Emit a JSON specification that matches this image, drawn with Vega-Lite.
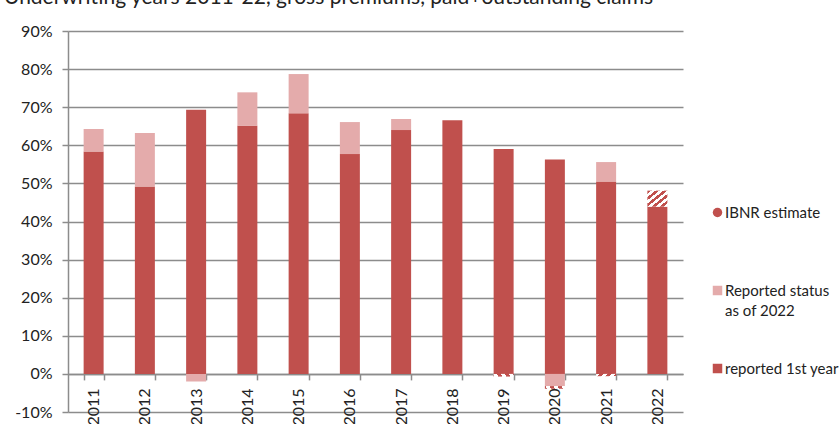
{
  "$schema": "https://vega.github.io/schema/vega-lite/v6.json",
  "width": 615,
  "height": 381,
  "autosize": {"type": "none"},
  "padding": {"left": 68, "top": 31, "right": 157, "bottom": 12},
  "background": "white",
  "title": {
    "text": "Underwriting years 2011-22, gross premiums, paid+outstanding claims",
    "anchor": "start",
    "frame": "group",
    "orient": "top",
    "offset": -2,
    "dx": -64,
    "baseline": "alphabetic",
    "font": "Lato",
    "fontSize": 21,
    "fontWeight": "normal",
    "color": "#222222"
  },
  "config": {
    "font": "Lato",
    "view": {"stroke": null}
  },
  "data": {
    "values": [
      {"year": "2011", "type": "reported 1st year", "value": 58.4},
      {"year": "2011", "type": "Reported status as of 2022", "value": 5.9},
      {"year": "2012", "type": "reported 1st year", "value": 49.2},
      {"year": "2012", "type": "Reported status as of 2022", "value": 14.0},
      {"year": "2013", "type": "reported 1st year", "value": 69.3},
      {"year": "2013", "type": "Reported status as of 2022", "value": -2.0},
      {"year": "2014", "type": "reported 1st year", "value": 65.1},
      {"year": "2014", "type": "Reported status as of 2022", "value": 8.8},
      {"year": "2015", "type": "reported 1st year", "value": 68.4},
      {"year": "2015", "type": "Reported status as of 2022", "value": 10.3},
      {"year": "2016", "type": "reported 1st year", "value": 57.7},
      {"year": "2016", "type": "Reported status as of 2022", "value": 8.4},
      {"year": "2017", "type": "reported 1st year", "value": 64.0},
      {"year": "2017", "type": "Reported status as of 2022", "value": 2.9},
      {"year": "2018", "type": "reported 1st year", "value": 66.6},
      {"year": "2019", "type": "reported 1st year", "value": 59.0},
      {"year": "2019", "type": "IBNR estimate", "value": -0.7},
      {"year": "2020", "type": "reported 1st year", "value": 56.3},
      {"year": "2020", "type": "Reported status as of 2022", "value": -3.2},
      {"year": "2020", "type": "IBNR estimate", "value": -0.7},
      {"year": "2021", "type": "reported 1st year", "value": 50.5},
      {"year": "2021", "type": "Reported status as of 2022", "value": 5.1},
      {"year": "2021", "type": "IBNR estimate", "value": -0.6},
      {"year": "2022", "type": "reported 1st year", "value": 43.9},
      {"year": "2022", "type": "IBNR estimate", "value": 4.2}
    ]
  },
  "mark": {"type": "bar"},
  "encoding": {
    "x": {
      "field": "year",
      "type": "ordinal",
      "scale": {"paddingInner": 0.61, "paddingOuter": 0.305},
      "axis": {
        "title": null,
        "labelAngle": -90,
        "labelAlign": "right",
        "labelBaseline": "middle",
        "tickBand": "extent",
        "offset": -38.1,
        "domainColor": "#8c8c8c",
        "domainWidth": 1.5,
        "tickColor": "#8c8c8c",
        "tickWidth": 1.5,
        "tickSize": 6,
        "labelPadding": 8,
        "labelFontSize": 16,
        "labelColor": "#222222",
        "grid": false
      }
    },
    "y": {
      "field": "value",
      "type": "quantitative",
      "stack": "zero",
      "scale": {"domain": [-10, 90], "nice": false, "zero": false},
      "axis": {
        "title": null,
        "values": [-10, 0, 10, 20, 30, 40, 50, 60, 70, 80, 90],
        "labelExpr": "datum.value + '%'",
        "grid": true,
        "gridColor": "#8c8c8c",
        "gridWidth": 1.5,
        "domainColor": "#8c8c8c",
        "domainWidth": 1.5,
        "tickColor": "#8c8c8c",
        "tickWidth": 1.5,
        "tickSize": 6,
        "labelPadding": 10,
        "labelFontSize": 16,
        "labelColor": "#222222"
      }
    },
    "order": {"field": "type", "sort": "descending"},
    "fill": {
      "field": "type",
      "type": "nominal",
      "condition": {
        "test": "(datum.type || datum.value) === 'IBNR estimate'",
        "value": {
          "gradient": "linear",
          "x1": 0, "y1": 0, "x2": 1, "y2": 1,
          "stops": [
            {"offset": 0, "color": "#c0504d"},
            {"offset": 0.1, "color": "#c0504d"},
            {"offset": 0.1, "color": "#ffffff"},
            {"offset": 0.2, "color": "#ffffff"},
            {"offset": 0.2, "color": "#c0504d"},
            {"offset": 0.3, "color": "#c0504d"},
            {"offset": 0.3, "color": "#ffffff"},
            {"offset": 0.4, "color": "#ffffff"},
            {"offset": 0.4, "color": "#c0504d"},
            {"offset": 0.5, "color": "#c0504d"},
            {"offset": 0.5, "color": "#ffffff"},
            {"offset": 0.6, "color": "#ffffff"},
            {"offset": 0.6, "color": "#c0504d"},
            {"offset": 0.7, "color": "#c0504d"},
            {"offset": 0.7, "color": "#ffffff"},
            {"offset": 0.8, "color": "#ffffff"},
            {"offset": 0.8, "color": "#c0504d"},
            {"offset": 0.9, "color": "#c0504d"},
            {"offset": 0.9, "color": "#ffffff"},
            {"offset": 1, "color": "#ffffff"}
          ]
        }
      },
      "scale": {
        "domain": ["IBNR estimate", "Reported status as of 2022", "reported 1st year"],
        "range": ["#c0504d", "#e4abab", "#c0504d"]
      },
      "legend": {
        "title": null,
        "orient": "none",
        "legendX": 642,
        "legendY": 174,
        "gridAlign": "all",
        "rowPadding": 42,
        "symbolType": "square",
        "symbolSize": 90,
        "symbolStrokeWidth": 0,
        "labelFontSize": 15,
        "labelColor": "#222222",
        "labelLimit": 300,
        "labelOffset": 0,
        "labelExpr": "datum.label == 'Reported status as of 2022' ? ['Reported status', 'as of 2022'] : datum.label",
        "encode": {
          "symbols": {
            "update": {
              "shape": {"signal": "datum.label === 'IBNR estimate' ? 'circle' : 'square'"}
            }
          },
          "labels": {
            "update": {
              "lineHeight": {"value": 20}
            }
          }
        }
      }
    }
  }
}
